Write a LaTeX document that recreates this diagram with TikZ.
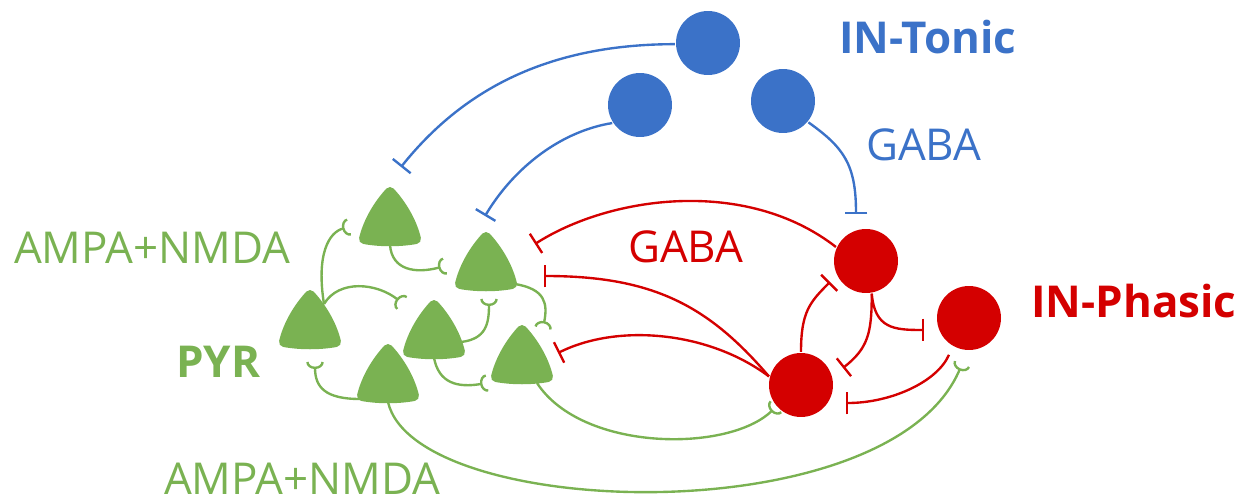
\documentclass[tikz,border=0pt]{standalone}
\usepackage{fontspec}
\setmainfont{Open Sans}
\usetikzlibrary{arrows.meta}
\definecolor{tonicblue}{RGB}{59,114,200}
\definecolor{phasicred}{RGB}{212,0,0}
\definecolor{pyrgreen}{RGB}{122,178,82}
\begin{document}
\begin{tikzpicture}[x=0.02cm, y=-0.02cm, line width=1.35pt,
	every node/.style={font=\fontsize{25}{30}\selectfont, inner sep=0pt},
	cell/.style={circle, minimum size=1.28cm},
	gaba/.style={-{Bar[width=13pt]}},
	ampa/.style={pyrgreen, -{Arc Barb[reversed, width=10pt, length=4pt]}},
	pyr/.pic={
		\filldraw[pyrgreen, line width=0.2cm, line join=round] (-26,-6) .. controls (-22,-23) and (-12,-40) .. (0,-53) .. controls (12,-40) and (22,-23) .. (26,-6) .. controls (10,-3) and (-10,-3) .. (-26,-6) -- cycle;
		\coordinate (-base) at (0,0);
		\coordinate (-bl) at (-28,-3);
		\coordinate (-br) at (29,-6);
		\coordinate (-bo) at (15,0);
		\coordinate (-ru) at (14,-44);
		\coordinate (-rl) at (27,-16);
	}]
	\useasboundingbox (0,0) rectangle (1252,504);
	
	% cells
	\foreach \n/\x/\y in {1/390/245, 2/486/290, 3/310/348, 4/434/358, 5/388/402, 6/522/383}
	{
		\pic (p\n) at (\x,\y) {pyr};
	}
	\foreach \n/\x/\y in {1/708/43, 2/640/105, 3/783/101}
	{
		\node[cell, fill=tonicblue] (ton\n) at (\x,\y) {};
	}
	\foreach \n/\x/\y in {1/866/261, 2/801/385, 3/969/318}
	{
		\node[cell, fill=phasicred] (ph\n) at (\x,\y) {};
	}
	
	% synapse ends
	\foreach \n/\x/\y in {1/401/167, 2/485/216, 3/856/214}
		\coordinate (b\n) at (\x,\y);
	\foreach \n/\x/\y in {1/535/244, 2/544/276, 3/558/353, 4/830/282, 5/843/368, 6/924/330, 7/846/403}
		\coordinate (g\n) at (\x,\y);
	\foreach \n/\x/\y in {1/445/266, 2/349/227, 3/402/303, 4/489/299, 5/543/328, 6/487/383, 7/315/362, 8/962/364}
		\coordinate (a\n) at (\x,\y);
	
	% tonic inhibition
	\draw[tonicblue, gaba] (ton1.182) .. controls +(-130,0) and +(60,-75) .. (b1);
	\draw[tonicblue, gaba] (ton2.213) .. controls +(-50,8) and +(30,-50) .. (b2);
	\draw[tonicblue, gaba] (ton3.-40) .. controls +(35,25) and +(0,-50) .. (b3);
	
	% phasic inhibition
	\draw[phasicred, gaba] (ph1.155) .. controls +(-90,-70) and +(75,-48) .. (g1);
	\draw[phasicred, gaba] (ph2.165) .. controls +(-60,-70) and +(110,0) .. (g2);
	\draw[phasicred, gaba] (ph2.165) .. controls +(-60,-45) and +(60,-30) .. (g3);
	\draw[phasicred, gaba] (ph2.north) .. controls +(0,-40) and +(-20,20) .. (g4);
	\draw[phasicred, gaba] (ph1.-80) .. controls +(0,40) and +(25,-20) .. (g5);
	\draw[phasicred, gaba] (ph1.-80) .. controls +(3,35) and +(-30,0) .. (g6);
	\draw[phasicred, gaba, shorten <=5pt] (ph3.240) .. controls +(-15,35) and +(45,0) .. (g7);
	
	% excitation
	\draw[ampa] (p1-base) .. controls +(2,25) and +(-30,8) .. (a1);
	\draw[ampa] (p3-ru) .. controls +(-8,-50) and +(-20,5) .. (a2);
	\draw[ampa] (p3-ru) .. controls +(15,-25) and +(-25,-20) .. (a3);
	\draw[ampa] (p4-rl) .. controls +(25,-3) and +(0,25) .. (a4);
	\draw[ampa] (p2-br) .. controls +(30,5) and +(5,-25) .. (a5);
	\draw[ampa] (p4-base) .. controls +(5,25) and +(-30,5) .. (a6);
	\draw[ampa] (p5-bl) .. controls +(-35,0) and +(0,25) .. (a7);
	\draw[ampa] (p6-bo) .. controls +(45,69) and +(-47,46) .. (ph2.221);
	\draw[ampa] (p5-base) .. controls +(27,118) and +(-72,171) .. (a8);
	
	% labels
	\node[anchor=base west, tonicblue, font=\bfseries\fontsize{25}{30}\selectfont] (tonic) at (838,53) {IN-Tonic};
	\node[anchor=base west, tonicblue] (gabaton) at (865,160) {GABA};
	\node[anchor=base west, phasicred] (gabaph) at (627,262) {GABA};
	\node[anchor=base west, phasicred, font=\bfseries\fontsize{25}{30}\selectfont] (phasic) at (1030,317) {IN-Phasic};
	\node[anchor=base west, pyrgreen] (ampatop) at (13,263) {AMPA+NMDA};
	\node[anchor=base west, pyrgreen, font=\bfseries\fontsize{25}{30}\selectfont] (pyrlbl) at (175,377) {PYR};
	\node[anchor=base west, pyrgreen] (ampabot) at (163,494) {AMPA+NMDA};
\end{tikzpicture}
\end{document}
